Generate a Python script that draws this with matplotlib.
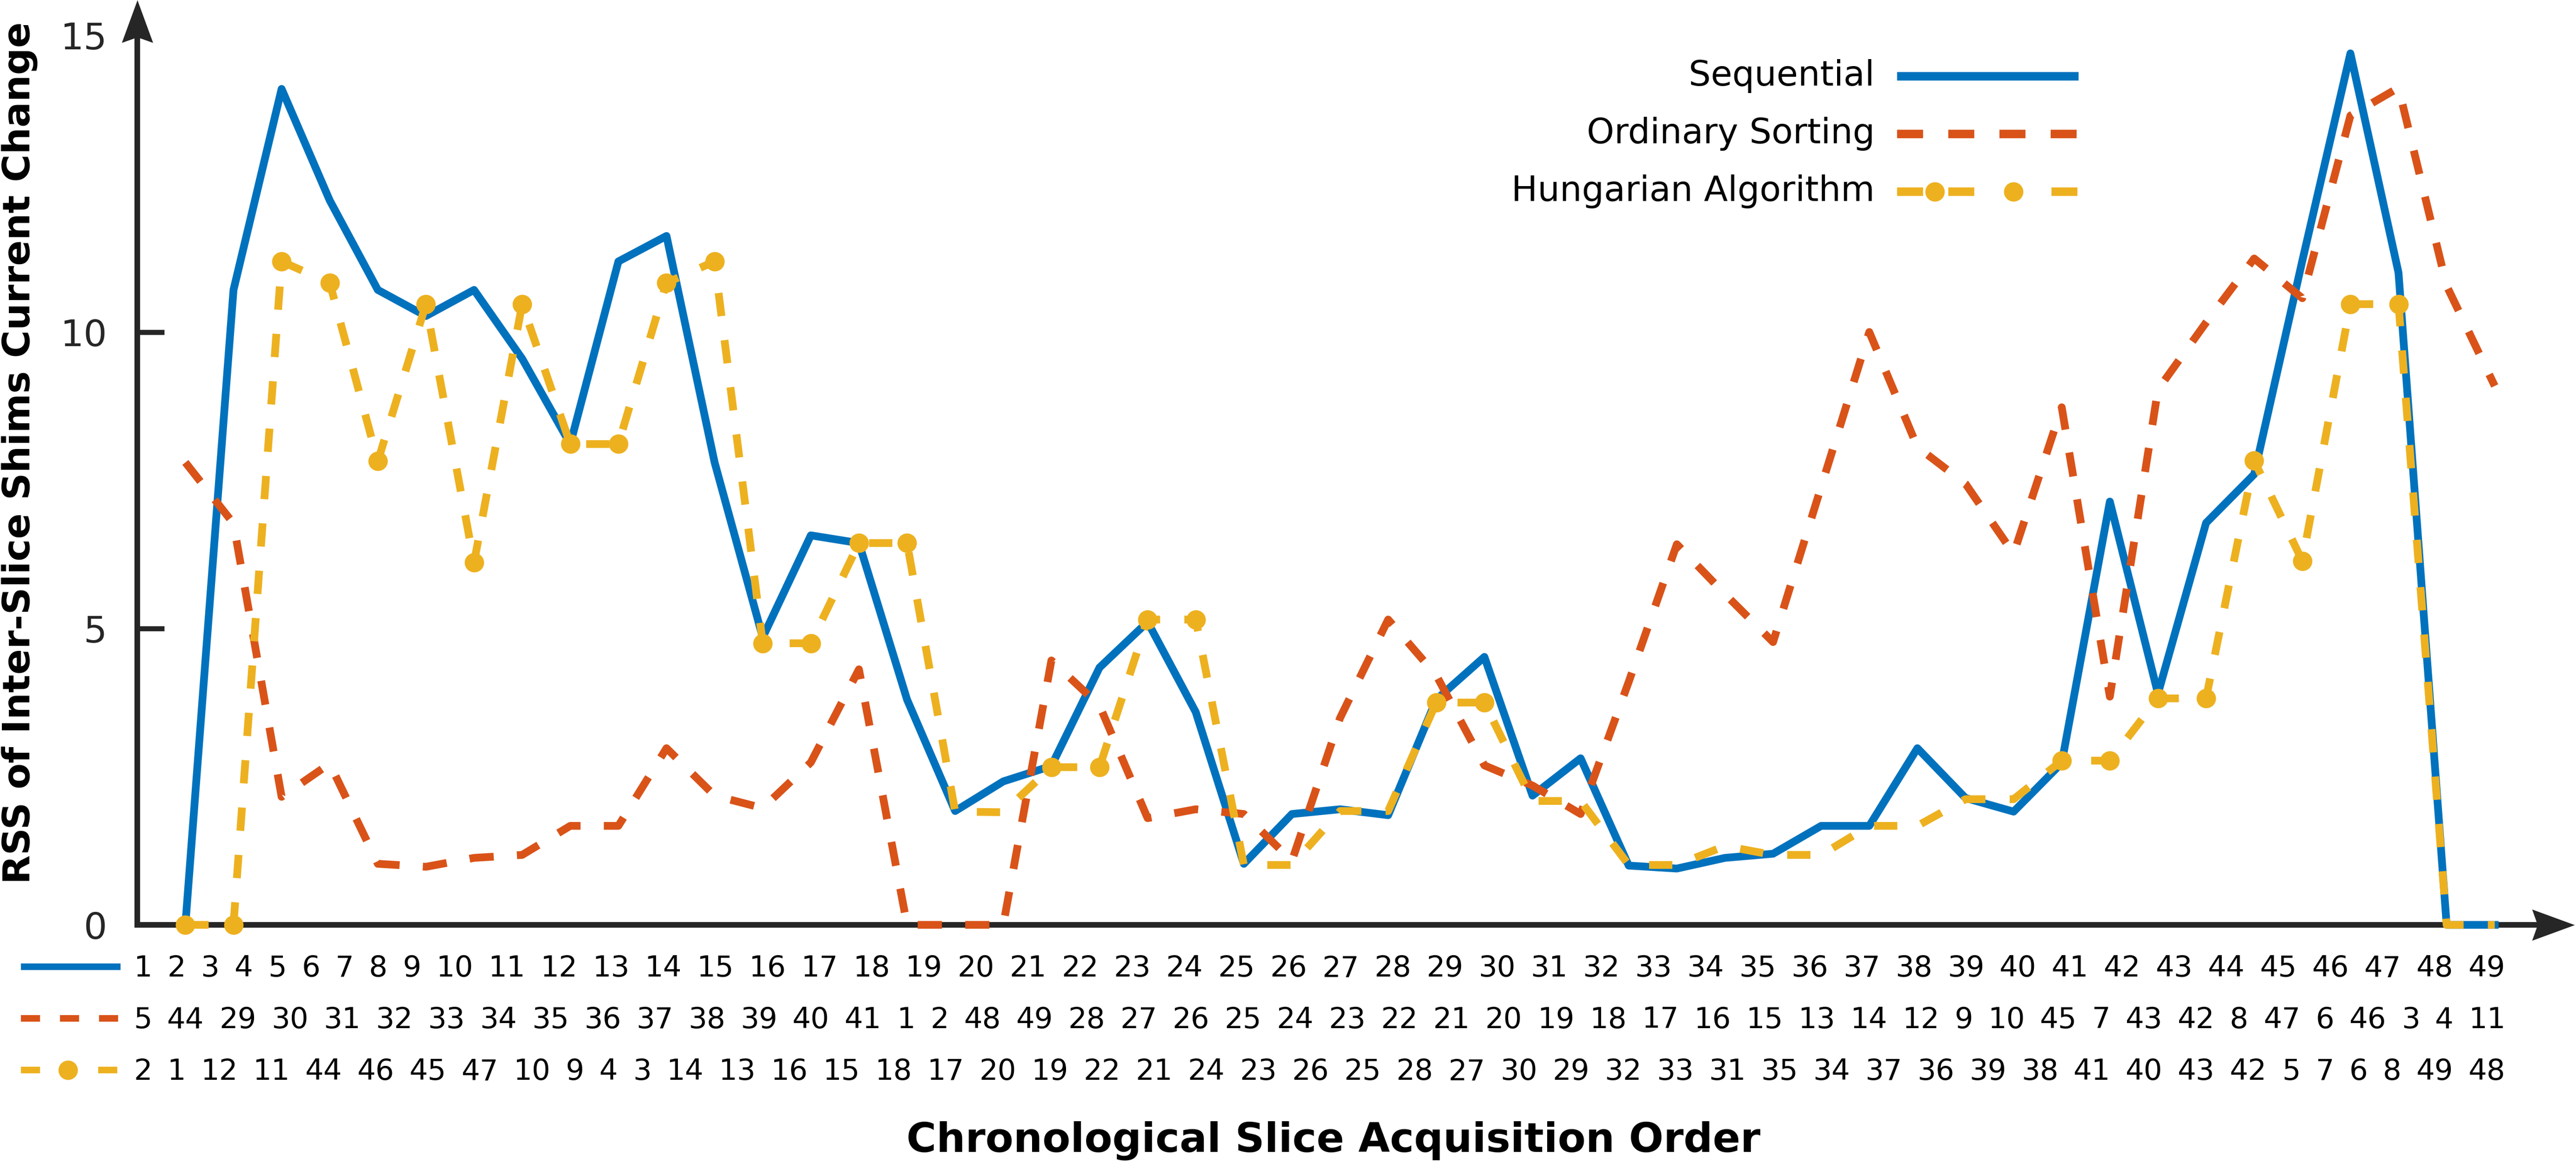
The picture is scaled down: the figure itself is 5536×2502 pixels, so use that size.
import numpy as np
import matplotlib
matplotlib.use("Agg")
import matplotlib.pyplot as plt
from matplotlib.path import Path
from matplotlib.lines import Line2D
from matplotlib.transforms import Affine2D

plt.rcParams['font.family'] = ['DejaVu Sans']
plt.rcParams['lines.scale_dashes'] = False

# --- data ---
position = np.arange(1, 50)

sequential = [0, 10.71, 14.10, 12.22, 10.71, 10.27, 10.71, 9.55, 8.11, 11.19,
              11.62, 7.80, 4.85, 6.57, 6.44, 3.80, 1.92, 2.42, 2.68, 4.34,
              5.11, 3.59, 1.03, 1.87, 1.95, 1.85, 3.80, 4.52, 2.18, 2.81,
              1.00, 0.95, 1.13, 1.20, 1.67, 1.67, 2.98, 2.14, 1.91, 2.73,
              7.14, 3.90, 6.78, 7.60, 11.20, 14.70, 11.00, 0, 0]
ordinary = [7.80, 6.77, 2.16, 2.72, 1.03, 0.98, 1.13, 1.18, 1.67, 1.67,
            2.98, 2.18, 1.97, 2.74, 4.31, 0, 0, 0, 4.46, 3.70,
            1.80, 1.95, 1.87, 1.08, 3.49, 5.15, 4.21, 2.69, 2.35, 1.87,
            4.10, 6.42, 5.58, 4.77, 7.39, 10.00, 8.06, 7.44, 6.26, 8.73,
            3.85, 9.03, 10.16, 11.24, 10.57, 13.65, 14.12, 10.78, 9.09]
hungarian = [0, 0, 11.19, 10.83, 7.82, 10.47, 6.11, 10.47, 8.11, 8.11,
             10.83, 11.19, 4.75, 4.75, 6.44, 6.44, 1.91, 1.90, 2.66, 2.66,
             5.15, 5.15, 1.01, 1.01, 1.92, 1.92, 3.75, 3.75, 2.09, 2.09,
             1.01, 1.01, 1.33, 1.18, 1.18, 1.67, 1.67, 2.12, 2.12, 2.77,
             2.77, 3.82, 3.82, 7.83, 6.14, 10.47, 10.47, 0, 0]
# positions (1-based) where the Hungarian curve shows a marker
hungarian_marked = [1, 2, 3, 4, 5, 6, 7, 8, 9, 10, 11, 12, 13, 14, 15, 16,
                    19, 20, 21, 22, 27, 28, 40, 41, 42, 43, 44, 45, 46, 47]

# slice order under each scheme (label rows under the axis)
seq_order = list(range(1, 50))
ord_order = [5, 44, 29, 30, 31, 32, 33, 34, 35, 36, 37, 38, 39, 40, 41, 1, 2,
             48, 49, 28, 27, 26, 25, 24, 23, 22, 21, 20, 19, 18, 17, 16, 15,
             13, 14, 12, 9, 10, 45, 7, 43, 42, 8, 47, 6, 46, 3, 4, 11]
hun_order = [2, 1, 12, 11, 44, 46, 45, 47, 10, 9, 4, 3, 14, 13, 16, 15, 18,
             17, 20, 19, 22, 21, 24, 23, 26, 25, 28, 27, 30, 29, 32, 33, 31,
             35, 34, 37, 36, 39, 38, 41, 40, 43, 42, 5, 7, 6, 8, 49, 48]

series_names = ['Sequential', 'Ordinary Sorting', 'Hungarian Algorithm']
y_ticks = [0, 5, 10, 15]

BLUE, ORANGE, YELLOW = '#0072BD', '#D95319', '#EDB120'
INK = '#262626'
LW = 4.0

W, H = 5536, 2502
fig = plt.figure(figsize=(W / 300, H / 300), dpi=300)
# pixel coordinates measured from the top-left corner of the figure
px = Affine2D().scale(1 / W, -1 / H).translate(0, 1) + fig.transFigure

ax = fig.add_axes([295 / W, 514 / H, 5238 / W, 1988 / H])
ax.set_xlim(0, 50.66)
ax.set_ylim(0, 15.6)
for s in ax.spines.values():
    s.set_visible(False)

ax.plot(position, sequential, color=BLUE, lw=LW, zorder=3, clip_on=False)
ax.plot(position, ordinary, color=ORANGE, lw=LW, ls=(0, (12.5, 12)),
        zorder=4, clip_on=False)
ax.plot(position, hungarian, color=YELLOW, lw=LW, ls=(0, (12, 12.5)),
        marker='o', ms=9, markevery=[p - 1 for p in hungarian_marked],
        zorder=5, clip_on=False)

# axis lines with arrow heads
ax.plot([0.985, 0, 0], [0, 0, 0.96], transform=ax.transAxes, color=INK,
        lw=2.9, clip_on=False, solid_joinstyle='miter', zorder=2)
head_right = Path([(0, 0), (-1, 0.366), (-0.87, 0), (-1, -0.366), (0, 0)],
                  [Path.MOVETO, Path.LINETO, Path.LINETO, Path.LINETO, Path.CLOSEPOLY])
head_up = Path([(0, 0), (0.366, -1), (0, -0.87), (-0.366, -1), (0, 0)],
               [Path.MOVETO, Path.LINETO, Path.LINETO, Path.LINETO, Path.CLOSEPOLY])
ax.plot([1], [0], marker=head_right, ms=44, mew=0, color=INK,
        transform=ax.transAxes, clip_on=False, zorder=2)
ax.plot([0], [1], marker=head_up, ms=44, mew=0, color=INK,
        transform=ax.transAxes, clip_on=False, zorder=2)

ax.set_xticks([])
ax.set_yticks(y_ticks)
ax.tick_params(axis='y', direction='in', length=14, width=2.6, color=INK,
               labelsize=19, labelcolor=INK, pad=15.6)
ticks = ax.yaxis.get_major_ticks()
ticks[0].tick1line.set_visible(False)
ticks[-1].tick1line.set_visible(False)

fig.text(42, 973, 'RSS of Inter-Slice Shims Current Change', transform=px,
         rotation=90, ha='center', va='center', fontsize=19.5, fontweight='bold')
fig.text(2866, 2452, 'Chronological Slice Acquisition Order', transform=px,
         ha='center', va='center', fontsize=21, fontweight='bold')

# legend, top right
leg_y = [164, 288, 412]
for name, yy in zip(series_names, leg_y):
    fig.text(4029, yy + 20, name, transform=px, ha='right', va='baseline',
             fontsize=18)
fig.add_artist(Line2D([4077, 4467], [leg_y[0]] * 2, transform=px, color=BLUE,
                      lw=4.4, solid_capstyle='butt'))
fig.add_artist(Line2D([4077, 4467], [leg_y[1]] * 2, transform=px, color=ORANGE,
                      lw=4.4, ls=(0, (13.4, 13)), dash_capstyle='butt'))
fig.add_artist(Line2D([4077, 4467], [leg_y[2]] * 2, transform=px, color=YELLOW,
                      lw=4.4, ls=(0, (13.4, 13, 13.4, 39.8)), dash_capstyle='butt'))
fig.add_artist(Line2D([4158, 4327], [leg_y[2]] * 2, transform=px, color=YELLOW,
                      ls='none', marker='o', ms=9))

# slice order rows under the axis
row_y = [2078, 2189, 2300]
fig.add_artist(Line2D([45, 259], [row_y[0]] * 2, transform=px, color=BLUE,
                      lw=3.4, solid_capstyle='butt'))
fig.add_artist(Line2D([45, 254], [row_y[1]] * 2, transform=px, color=ORANGE,
                      lw=3.4, ls=(0, (9.84, 10.3)), dash_capstyle='butt'))
fig.add_artist(Line2D([45, 254], [row_y[2]] * 2, transform=px, color=YELLOW,
                      lw=3.4, ls=(0, (9.84, 30)), dash_capstyle='butt'))
fig.add_artist(Line2D([146], [row_y[2]], transform=px, color=YELLOW,
                      ls='none', marker='o', ms=9))

digit_w = 0.636 * 15 * 300 / 72
for labels, yy in zip([seq_order, ord_order, hun_order], row_y):
    x = 287.0
    for lab in labels:
        w = len(str(lab)) * digit_w
        fig.text(x + w / 2, yy + 21, str(lab), transform=px, ha='center',
                 va='baseline', fontsize=15)
        x += w + 32.5

fig.savefig('out.png', dpi=300)
